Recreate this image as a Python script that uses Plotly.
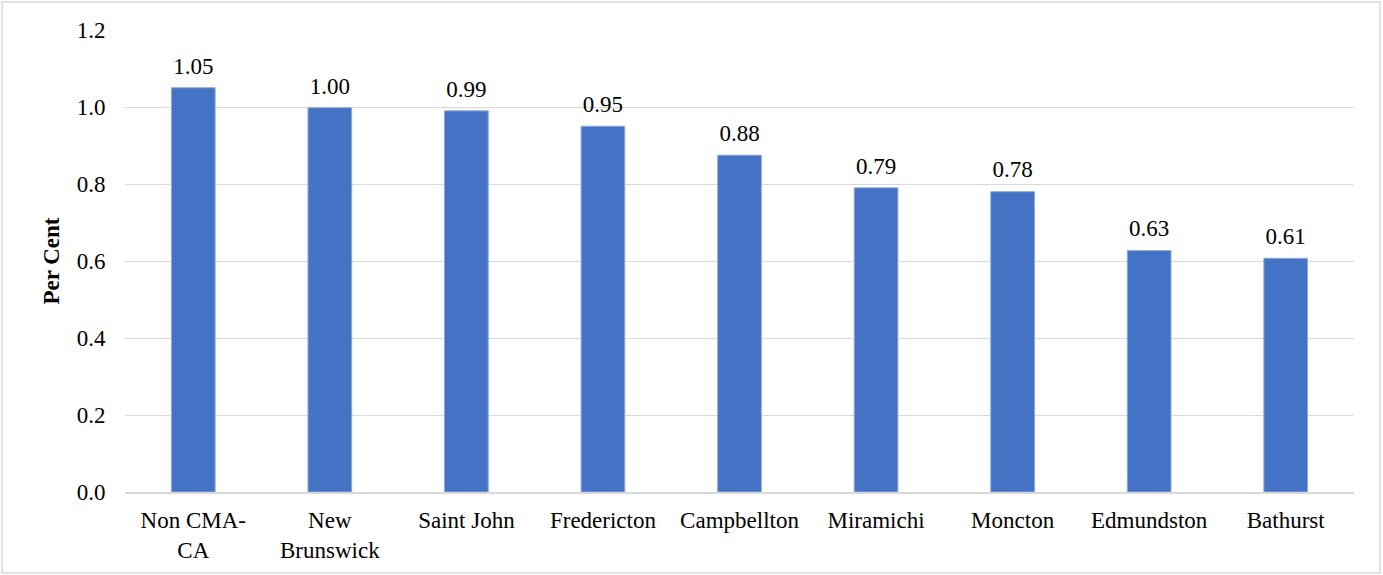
import plotly.graph_objects as go

regions = ["Non CMA-<br>CA", "New<br>Brunswick", "Saint John", "Fredericton", "Campbellton",
           "Miramichi", "Moncton", "Edmundston", "Bathurst"]
per_cent = [1.05, 0.998, 0.99, 0.95, 0.875, 0.79, 0.78, 0.627, 0.607]

serif = "Liberation Serif, Times New Roman, serif"

fig = go.Figure()
fig.add_trace(go.Bar(
    x=regions,
    y=per_cent,
    marker_color="#4472c4",
    marker_line=dict(color="#8eaadb", width=1),
    width=0.32,
    hoverinfo="x+y",
))

# value labels sit a bit above the bars, like the Excel original
fig.add_trace(go.Scatter(
    x=regions,
    y=per_cent,
    mode="markers+text",
    marker=dict(size=12, opacity=0),
    text=[f"{v:.2f}" for v in per_cent],
    textposition="top center",
    textfont=dict(family=serif, size=23, color="black"),
    cliponaxis=False,
    hoverinfo="skip",
))

# light grey frame around the whole chart
fig.add_shape(type="rect", xref="paper", yref="paper",
              x0=-123 / 1229, x1=1255 / 1229, y0=-81 / 462, y1=490 / 462,
              line=dict(color="#d9d9d9", width=1.5), layer="below")

fig.update_layout(
    width=1383, height=575,
    margin=dict(l=125, r=29, t=30, b=83),
    paper_bgcolor="white",
    plot_bgcolor="white",
    showlegend=False,
    font=dict(family=serif, size=23, color="black"),
    xaxis=dict(
        range=[-0.5, len(regions) - 0.5],
        showgrid=False,
        showline=True, linecolor="#d9d9d9", linewidth=2,
        ticks="outside", ticklen=6, tickcolor="rgba(0,0,0,0)",
        tickfont=dict(family=serif, size=23),
    ),
    yaxis=dict(
        range=[0, 1.2],
        dtick=0.2,
        tickformat=".1f",
        showgrid=True, gridcolor="#d9d9d9", gridwidth=1,
        zeroline=False,
        ticks="outside", ticklen=14, tickcolor="rgba(0,0,0,0)",
        tickfont=dict(family=serif, size=23),
        title=dict(text="<b>Per Cent</b>", font=dict(family=serif, size=23), standoff=10),
    ),
)

fig.write_html("out.html", config={"displayModeBar": False},
               post_script="document.body.style.margin='0';")
